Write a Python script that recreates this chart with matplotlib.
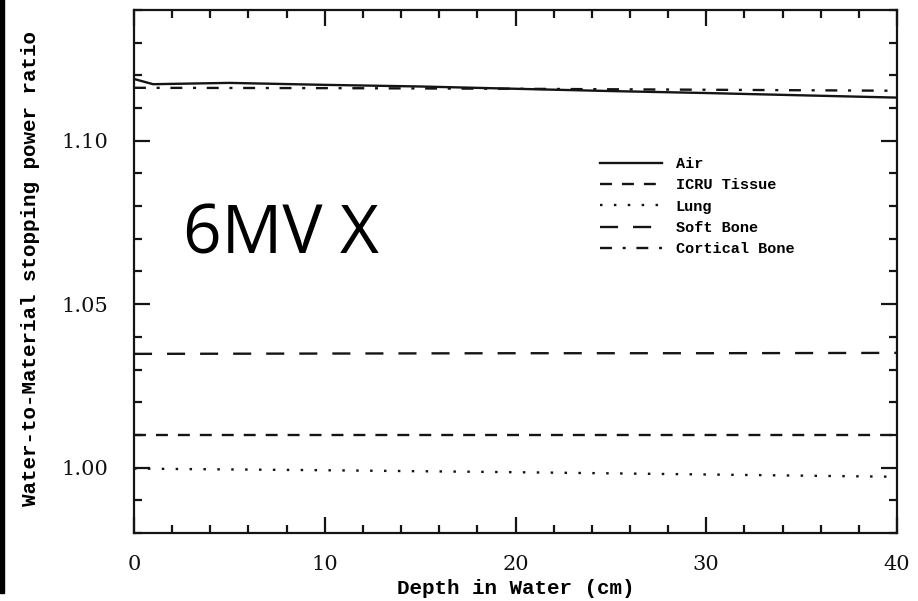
import matplotlib
matplotlib.use("Agg")
import matplotlib.pyplot as plt
from matplotlib.patches import Rectangle
from matplotlib.ticker import MultipleLocator

plt.rcParams["lines.scale_dashes"] = False

# Depths (cm) and water-to-material stopping power ratios
depth_air = [0, 1, 5, 10, 15, 20, 25, 30, 35, 40]
air = [1.1189, 1.1173, 1.1177, 1.1171, 1.1166, 1.1159, 1.1152, 1.1146, 1.1139, 1.1132]

depth = [0, 10, 20, 30, 40]
icru_tissue = [1.0100, 1.0100, 1.0100, 1.0100, 1.0100]
lung = [0.9997, 0.9992, 0.9986, 0.9979, 0.9972]
soft_bone = [1.0348, 1.0349, 1.0350, 1.0350, 1.0351]
cortical_bone = [1.1162, 1.1161, 1.1159, 1.1156, 1.1153]

labels = ["Air", "ICRU Tissue", "Lung", "Soft Bone", "Cortical Bone"]
x_ticks = [0, 10, 20, 30, 40]
y_ticks = [1.00, 1.05, 1.10]
y_tick_labels = ["1.00", "1.05", "1.10"]

W, H = 918, 601
fig = plt.figure(figsize=(W / 100, H / 100), dpi=100)
ax = fig.add_axes([134 / W, 1 - 533 / H, (897 - 134) / W, (533 - 10) / H])

ink = "#141414"
lw = 1.7
ax.plot(depth_air, air, color=ink, lw=lw, linestyle="-", label=labels[0])
ax.plot(depth, icru_tissue, color=ink, lw=lw, linestyle=(0, (8.6, 7.2)), label=labels[1])
ax.plot(depth, lung, color=ink, lw=lw, linestyle=(0, (1.8, 8.2)), label=labels[2])
ax.plot(depth, soft_bone, color=ink, lw=lw, linestyle=(0, (13.0, 10.8)), label=labels[3])
ax.plot(depth, cortical_bone, color=ink, lw=lw,
        linestyle=(0, (8.6, 7.7, 2.2, 7.7)), label=labels[4])

ax.set_xlim(0, 40)
ax.set_ylim(0.98, 1.14)
ax.set_xticks(x_ticks)
ax.set_yticks(y_ticks)
ax.set_yticklabels(y_tick_labels)
ax.xaxis.set_minor_locator(MultipleLocator(2))
ax.yaxis.set_minor_locator(MultipleLocator(0.01))

for s in ax.spines.values():
    s.set_linewidth(1.6)
    s.set_color(ink)

ax.tick_params(which="both", direction="in", top=True, right=True, color=ink, width=1.6)
ax.tick_params(which="major", length=11.5)
ax.tick_params(which="minor", length=5.8)
ax.tick_params(axis="y", which="major", pad=18.5)
ax.tick_params(axis="x", which="major", pad=15.5)
for t in ax.get_xticklabels() + ax.get_yticklabels():
    t.set_fontfamily("DejaVu Serif")
    t.set_fontsize(15)
    t.set_color("#111111")

label_font = dict(family="Liberation Mono", weight="bold", size=15)
ax.set_xlabel("Depth in Water (cm)", **label_font)
ax.set_ylabel("Water-to-Material stopping power ratio", **label_font)
ax.xaxis.set_label_coords(0.5, (533 - 589) / 523)
ax.xaxis.label.set_verticalalignment("center")
ax.yaxis.set_label_coords((31 - 134) / 763, (533 - 269) / 523)
ax.yaxis.label.set_verticalalignment("center")

leg = ax.legend(loc="upper left", bbox_to_anchor=((600 - 134) / 763, (533 - 157) / 523),
                frameon=False, borderpad=0, borderaxespad=0,
                handlelength=4.05, handletextpad=0.9, labelspacing=0.48,
                prop=dict(family="Liberation Mono", weight="bold", size=11))

fig.text(183 / W, 1 - 253 / H, "6MV X", family="Open Sans", fontsize=48.5,
         va="baseline", ha="left", color="black")

# dark edge strip on the left side
fig.patches.append(Rectangle((0, 8 / H), 4 / W, 1, transform=fig.transFigure,
                             color="black", zorder=10))

fig.savefig("out.png", dpi=100)
